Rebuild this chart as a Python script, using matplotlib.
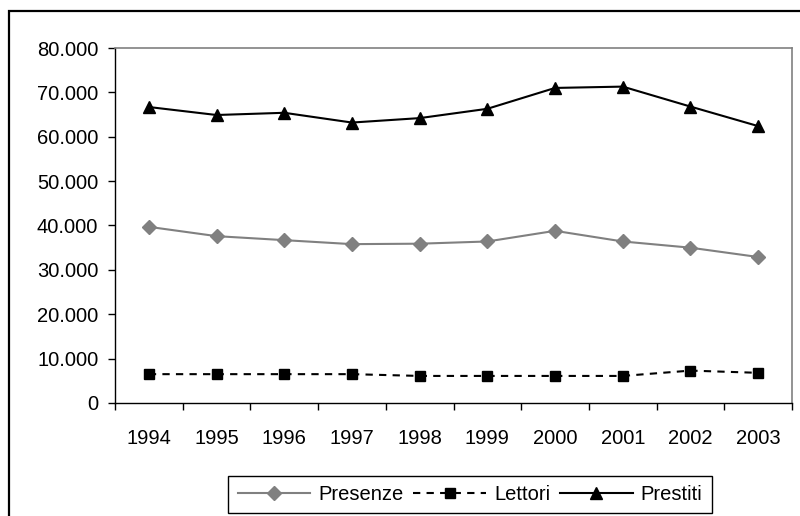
import matplotlib
matplotlib.use('Agg')
import matplotlib.pyplot as plt
import matplotlib.patches as patches
from matplotlib.ticker import FuncFormatter, FixedLocator

# ----------------------------------------------------------------
# data

years = ['1994', '1995', '1996', '1997', '1998', '1999', '2000', '2001', '2002', '2003']
presenze = [39700, 37600, 36700, 35800, 35900, 36400, 38800, 36400, 35000, 32900]
lettori = [6500, 6500, 6500, 6500, 6100, 6100, 6100, 6100, 7300, 6800]
prestiti = [66700, 64900, 65400, 63200, 64200, 66300, 71000, 71300, 66800, 62400]

# ----------------------------------------------------------------
# figure

plt.rcParams['font.family'] = ['Liberation Sans', 'DejaVu Sans']
fig = plt.figure(figsize=(8.0, 5.16), dpi=100)
fig.set_facecolor('white')

# outer chart frame (cut off at right/bottom like the original)
frame = patches.Rectangle((9/800, -0.1), 1.2, 1 - 11/516 + 0.1, transform=fig.transFigure,
                          fill=False, lw=1.6, ec='black')
fig.patches.append(frame)

ax = fig.add_axes([115/800, 1 - 403/516, (792 - 115)/800, (403 - 48)/516])

x = list(range(len(years)))
ax.plot(x, presenze, color='#808080', lw=1.5, marker='D', ms=7, mec='#808080', mfc='#808080',
        label='Presenze')
ax.plot(x, lettori, color='black', lw=1.5, ls=(0, (3.5, 3)), marker='s', ms=7, label='Lettori')
ax.plot(x, prestiti, color='black', lw=1.5, marker='^', ms=8.5, label='Prestiti')

ax.set_xlim(-0.5, len(years) - 0.5)
ax.set_ylim(0, 80000)
ax.set_yticks(range(0, 80001, 10000))
ax.yaxis.set_major_formatter(FuncFormatter(lambda v, p: '{:,.0f}'.format(v).replace(',', '.')))

ax.set_xticks(x)
ax.set_xticklabels(years)
ax.xaxis.set_minor_locator(FixedLocator([i - 0.5 for i in range(len(years) + 1)]))
ax.tick_params(axis='x', which='major', length=0, pad=19, labelsize=14.5)
ax.tick_params(axis='x', which='minor', length=5, width=1, direction='out')
ax.tick_params(axis='y', length=5, width=1, direction='out', pad=7, labelsize=14.5)

for s in ['left', 'bottom']:
    ax.spines[s].set_color('black')
    ax.spines[s].set_linewidth(1)
for s in ['top', 'right']:
    ax.spines[s].set_color('#808080')
    ax.spines[s].set_linewidth(1.2)

leg = fig.legend(loc='center', bbox_to_anchor=(470/800, 1 - 494.5/516), ncol=3,
                 fancybox=False, edgecolor='black', framealpha=1, fontsize=14.5,
                 handlelength=3.6, handletextpad=0.4, columnspacing=0.5, borderpad=0.45,
                 borderaxespad=0)
leg.get_frame().set_linewidth(1)

plt.savefig('out.png', dpi=100)
